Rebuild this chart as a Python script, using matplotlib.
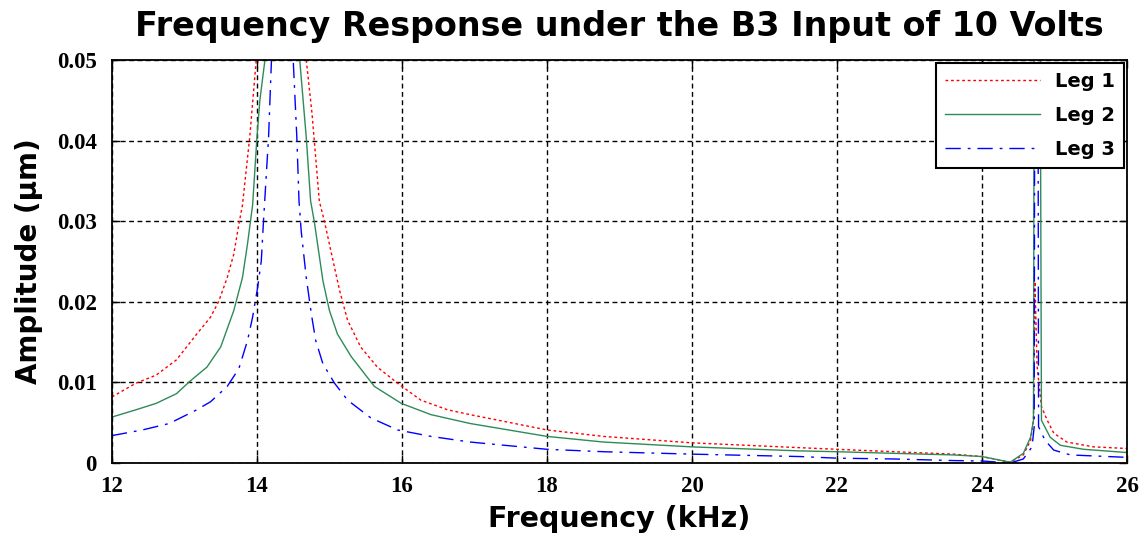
import numpy as np
import matplotlib
matplotlib.use('Agg')
import matplotlib.pyplot as plt

# frequency (kHz) / amplitude (um)
f_leg1 = [12.0, 12.33, 12.61, 12.89, 13.17, 13.36, 13.47, 13.59, 13.68, 13.75, 13.80, 13.90,
          13.99, 14.35, 14.68, 14.76, 14.86, 14.93, 15.02, 15.14, 15.25, 15.43, 15.66, 15.94,
          16.26, 16.63, 16.94, 18.0, 18.78, 20.0, 21.49, 22.0, 22.78, 23.61, 24.0, 24.39,
          24.57, 24.67, 24.71, 24.73, 24.76, 24.82, 24.90, 24.99, 25.17, 25.54, 26.0]
a_leg1 = [0.0082, 0.0099, 0.0109, 0.0128, 0.0160, 0.0181, 0.0200, 0.0230, 0.0259, 0.0296,
          0.0320, 0.0404, 0.0500, 0.2000, 0.0500, 0.0433, 0.0325, 0.0300, 0.0263, 0.0214,
          0.0177, 0.0144, 0.0119, 0.0099, 0.0078, 0.0066, 0.0060, 0.0041, 0.0033, 0.0025,
          0.0019, 0.0017, 0.0014, 0.0011, 0.0008, 0.0001, 0.0010, 0.0028, 0.0053, 0.0225,
          0.0120, 0.0070, 0.0053, 0.0037, 0.0026, 0.0020, 0.0018]

f_leg2 = [12.0, 12.33, 12.61, 12.89, 13.07, 13.31, 13.50, 13.68, 13.80, 13.87, 13.94, 14.00,
          14.04, 14.11, 14.35, 14.59, 14.68, 14.74, 14.79, 14.91, 15.00, 15.11, 15.30, 15.62,
          15.99, 16.40, 16.94, 18.0, 18.78, 20.0, 21.49, 22.0, 22.78, 23.61, 24.0, 24.39,
          24.57, 24.67, 24.71, 24.75, 24.82, 24.94, 25.08, 25.40, 26.0]
a_leg2 = [0.0057, 0.0066, 0.0074, 0.0086, 0.0101, 0.0119, 0.0144, 0.0189, 0.0230, 0.0272,
          0.0320, 0.0404, 0.0450, 0.0500, 0.2000, 0.0500, 0.0404, 0.0325, 0.0300, 0.0226,
          0.0189, 0.0160, 0.0132, 0.0095, 0.0074, 0.0060, 0.0049, 0.0033, 0.0026, 0.0020,
          0.0015, 0.0014, 0.0012, 0.0010, 0.0008, 0.0001, 0.0012, 0.0032, 0.0053, 0.2000,
          0.0053, 0.0032, 0.0022, 0.0017, 0.0013]

f_leg3 = [12.0, 12.42, 12.79, 13.17, 13.36, 13.59, 13.75, 13.87, 13.94, 14.01, 14.06, 14.09,
          14.16, 14.20, 14.35, 14.50, 14.55, 14.58, 14.61, 14.68, 14.75, 14.81, 14.91, 15.07,
          15.25, 15.57, 15.94, 16.40, 16.94, 18.0, 18.78, 20.0, 21.49, 22.0, 22.78, 23.61,
          24.0, 24.39, 24.57, 24.69, 24.72, 24.75, 24.78, 24.87, 24.99, 25.22, 26.0]
a_leg3 = [0.0034, 0.0041, 0.0049, 0.0066, 0.0076, 0.0095, 0.0117, 0.0152, 0.0181, 0.0218,
          0.0251, 0.0300, 0.0404, 0.0500, 0.2000, 0.0500, 0.0404, 0.0325, 0.0288, 0.0230,
          0.0185, 0.0152, 0.0123, 0.0099, 0.0078, 0.0056, 0.0041, 0.0033, 0.0026, 0.0017,
          0.0014, 0.0011, 0.0008, 0.0006, 0.0005, 0.0003, 0.00025, 0.0, 0.0005, 0.0020,
          0.0045, 0.2000, 0.0045, 0.0028, 0.0016, 0.0010, 0.0007]

labels = ['Leg 1', 'Leg 2', 'Leg 3']
xticks = [12, 14, 16, 18, 20, 22, 24, 26]
yticks = [0, 0.01, 0.02, 0.03, 0.04, 0.05]

fig = plt.figure(figsize=(11.4, 5.39), dpi=100)
ax = fig.add_axes([0.0982, 0.141, 0.8904, 0.7477])

ax.plot(f_leg1, a_leg1, color='red', lw=1.0, ls=(0, (2, 2)), label=labels[0])
ax.plot(f_leg2, a_leg2, color='#2e8b57', lw=1.0, ls='-', label=labels[1])
ax.plot(f_leg3, a_leg3, color='blue', lw=1.0, ls=(0, (11, 5, 2, 5)), label=labels[2])

ax.set_xlim(12, 26)
ax.set_ylim(0, 0.05)
ax.set_xticks(xticks)
ax.set_yticks(yticks)
ax.set_yticklabels(['0' if v == 0 else '%.2f' % v for v in yticks])
ax.grid(True, color='black', ls=(0, (3.5, 2.5)), lw=1.0)
ax.tick_params(axis='x', direction='in', length=6, width=1, top=True, pad=9)
ax.tick_params(axis='y', direction='in', length=6, width=1, right=True, pad=11)
for lab in ax.get_xticklabels() + ax.get_yticklabels():
    lab.set_family('Liberation Serif')
    lab.set_fontweight('bold')
    lab.set_fontsize(16.5)
for sp in ax.spines.values():
    sp.set_linewidth(1.3)

ax.set_title('Frequency Response under the B3 Input of 10 Volts', family='DejaVu Sans',
             fontweight='bold', fontsize=24, pad=17)
ax.set_xlabel('Frequency (kHz)', family='DejaVu Sans', fontweight='bold', fontsize=20.5, labelpad=6)
ax.set_ylabel('Amplitude (μm)', family='DejaVu Sans', fontweight='bold', fontsize=20, labelpad=10)

leg = ax.legend(loc='upper right', fancybox=False, edgecolor='black', framealpha=1,
                handlelength=4.9, labelspacing=0.78, borderaxespad=0.15, borderpad=0.45,
                prop={'family': 'DejaVu Sans', 'weight': 'bold', 'size': 14})
leg.get_frame().set_linewidth(1.5)

fig.savefig('out.png', dpi=100)
